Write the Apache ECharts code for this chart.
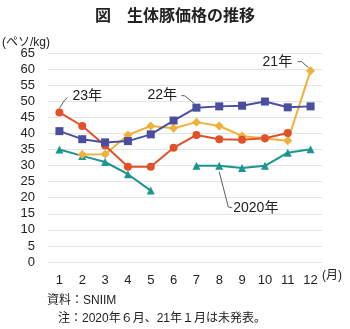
<!DOCTYPE html>
<html><head><meta charset="utf-8">
<script src="https://cdn.jsdelivr.net/npm/echarts@6/dist/echarts.min.js"></script>
<style>html,body{margin:0;padding:0;background:#fff}#c{width:350px;height:329px}</style>
</head><body><div id="c"></div>
<script>
const months = ['1','2','3','4','5','6','7','8','9','10','11','12'];
const y2023 = [46.5, 42.3, 36.2, 29.6, 29.6, 35.5, 39.5, 38.2, 38.0, 38.5, 40.1, null];
const y2022 = [40.7, 38.2, 37.2, 37.6, 39.7, 44.0, 48.0, 48.4, 48.6, 49.9, 48.1, 48.4];
const y2021 = [null, 33.4, 33.5, 39.5, 42.3, 41.6, 43.5, 42.3, 39.2, 38.4, 37.7, 59.5];
const y2020 = [35.0, 33.0, 31.1, 27.3, 22.2, null, 29.9, 29.9, 29.2, 29.9, 34.0, 35.1];
const yTicks = [0,5,10,15,20,25,30,35,40,45,50,55,60,65];

const FONT = '"Liberation Sans","Noto Sans CJK JP",sans-serif';
const chart = echarts.init(document.getElementById('c'), null, {renderer:'canvas'});
function ser(name, data, color, symbol, size){
  return {name, type:'line', data, connectNulls:false, symbol, symbolSize:size,
    lineStyle:{color, width:2}, itemStyle:{color}, z: 3};
}
chart.setOption({
  animation:false,
  title:{text:'図　生体豚価格の推移', left:'center', top:4,
    textStyle:{fontFamily:FONT, fontSize:16, fontWeight:'bold', color:'#222'}},
  grid:{left:48, right:28, top:53, bottom:67},
  xAxis:{type:'category', data:months, boundaryGap:true,
    axisLine:{show:true, lineStyle:{color:'#e4e4e4'}}, axisTick:{show:false},
    axisLabel:{fontFamily:FONT, fontSize:13, color:'#222', margin:12}},
  yAxis:{type:'value', min:0, max:65, interval:5,
    axisLine:{show:false}, axisTick:{show:false},
    splitLine:{lineStyle:{color:'#e4e4e4'}},
    axisLabel:{fontFamily:FONT, fontSize:13, color:'#222', margin:13,
      formatter:v=> yTicks.includes(v)? String(v):''}},
  series:[
    ser('2020年', y2020, '#1a968e', 'triangle', 8),
    ser('21年', y2021, '#f0b03c', 'diamond', 9),
    ser('23年', y2023, '#e2502a', 'circle', 8),
    ser('22年', y2022, '#4a4e9e', 'rect', 8)
  ]
});
function px(i, v){ return chart.convertToPixel({gridIndex:0}, [i, v]); }
const p23 = px(0, y2023[0]);
const p22 = px(6, y2022[6]);
const p21 = px(11, y2021[11]);
const p20 = px(7, y2020[7]);
const lineStyle = {stroke:'#333', lineWidth:0.8, fill:null};
const txt = (x,y,t,align)=>({type:'text', x, y, style:{text:t, font:'14px '+FONT, fill:'#222', textAlign:align||'left', textVerticalAlign:'middle'}});
chart.setOption({graphic:[
  {type:'polyline', shape:{points:[[p23[0],p23[1]-4],[p23[0]+5,p23[1]-12],[p23[0]+8,p23[1]-15]]}, style:lineStyle},
  txt(p23[0]+13, p23[1]-16, '23年'),
  {type:'polyline', shape:{points:[[p22[0]-2,p22[1]-4],[p22[0]-12,p22[1]-12],[p22[0]-15,p22[1]-12]]}, style:lineStyle},
  txt(p22[0]-49, p22[1]-13, '22年'),
  {type:'polyline', shape:{points:[[p21[0]-2,p21[1]-3],[p21[0]-9,p21[1]-9],[p21[0]-13,p21[1]-9]]}, style:lineStyle},
  txt(p21[0]-48, p21[1]-9, '21年'),
  {type:'polyline', shape:{points:[[p20[0],p20[1]+6],[p20[0]+9,p20[1]+41],[p20[0]+13,p20[1]+42]]}, style:lineStyle},
  txt(p20[0]+14, p20[1]+42, '2020年'),
  {type:'text', left:2, top:37, style:{text:'(ペソ/kg)', font:'12px '+FONT, fill:'#222'}},
  {type:'text', left:322, top:270, style:{text:'(月)', font:'12px '+FONT, fill:'#222'}},
  {type:'text', left:47, top:295, style:{text:'資料：SNIIM', font:'12px '+FONT, fill:'#222'}},
  {type:'text', left:58, top:313, style:{text:'注：2020年６月、21年１月は未発表。', font:'12px '+FONT, fill:'#222'}}
]});
</script></body></html>
